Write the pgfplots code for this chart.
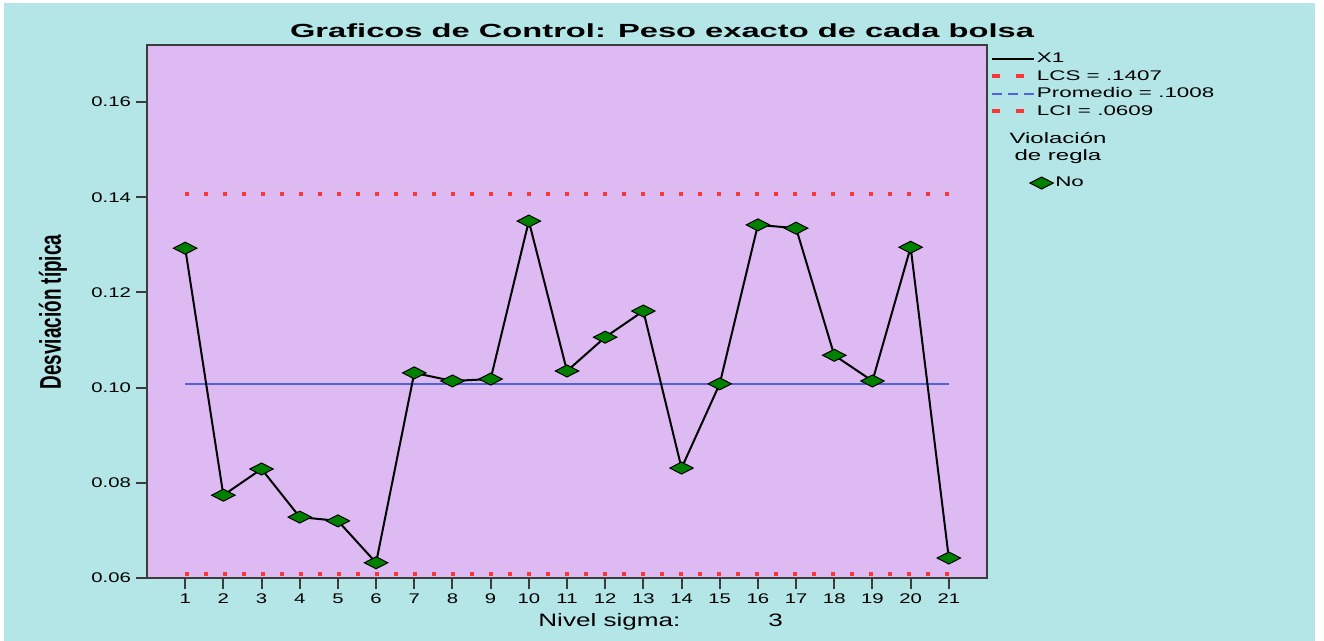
\documentclass[border=0pt]{standalone}
\usepackage{pgfplots}
\pgfplotsset{compat=1.18}
\usepackage{pgfplotstable}
\usepackage{fontspec}
\setmainfont[FakeStretch=1.45]{Liberation Sans}
\newfontfamily\titlefont[FakeStretch=1.72]{Liberation Sans}
\newfontfamily\legfont[FakeStretch=1.6]{Liberation Sans}
\newfontfamily\ylabfont[FakeStretch=0.63]{Liberation Sans}
\definecolor{bgcyan}{RGB}{180,230,231}
\definecolor{plotbg}{RGB}{222,186,242}
\definecolor{lred}{RGB}{250,55,55}
\definecolor{lblue}{RGB}{80,100,215}
\definecolor{dgreen}{RGB}{0,128,0}
\definecolor{axgray}{RGB}{60,60,60}

\pgfplotstableread{
x y
1 0.1293
2 0.0774
3 0.0829
4 0.0728
5 0.0720
6 0.0632
7 0.1031
8 0.1014
9 0.1018
10 0.1350
11 0.1035
12 0.1106
13 0.1161
14 0.0831
15 0.1008
16 0.1342
17 0.1335
18 0.1068
19 0.1014
20 0.1295
21 0.0642
}\datatable

\begin{document}
\begin{tikzpicture}[x=1pt,y=1pt]
\fill[white] (0,0) rectangle (662,320.5);
\fill[bgcyan] (2,0) rectangle (657.5,319);
\begin{axis}[
  at={(73.5pt,31.5pt)}, anchor=south west,
  width=420pt, height=266.5pt, scale only axis,
  axis background/.style={fill=plotbg},
  xmin=0, xmax=22, ymin=0.06, ymax=0.172,
  xtick={1,...,21},
  ytick={0.06,0.08,0.10,0.12,0.14,0.16},
  yticklabel style={xshift=1pt, /pgf/number format/fixed, /pgf/number format/fixed zerofill, /pgf/number format/precision=2},
  /pgf/number format/assume math mode=true,
  tick pos=left, tick align=outside,
  major tick length=5.5pt,
  every tick/.style={axgray, line width=1pt},
  axis line style={axgray, line width=1.1pt},
  ticklabel style={font=\fontsize{7}{8}\selectfont},
  xticklabel style={yshift=1pt},
  legend image code/.code={\draw[#1] (0pt,0pt) -- (21pt,0pt);},
  legend cell align=left,
  legend style={at={(1.003,0.99)}, anchor=north west, draw=none, fill=none,
    font=\legfont\fontsize{7}{8}\selectfont, inner sep=0pt, row sep=0.75pt,
    nodes={inner sep=0.5pt, text height=5.5pt, text depth=1.5pt}},
]
\addplot[lred, line width=2pt, dash pattern=on 2pt off 7.5pt, forget plot] coordinates {(1,0.1407) (21,0.1407)};
\addplot[lblue, line width=0.8pt, forget plot] coordinates {(1,0.1008) (21,0.1008)};
\addplot[lred, line width=2pt, dash pattern=on 2pt off 7.5pt, forget plot] coordinates {(1,0.0609) (21,0.0609)};
\addplot[black, line width=1pt, mark=diamond*, mark size=3pt,
  mark options={xscale=2.6, fill=dgreen, draw=black, line width=0.5pt, solid}, forget plot] table[x=x,y=y] {\datatable};
\addlegendimage{black, line width=0.8pt}
\addlegendentry{X1}
\addlegendimage{lred, line width=2pt, dash pattern=on 4pt off 8pt}
\addlegendentry{LCS = .1407}
\addlegendimage{lblue, line width=0.8pt, dash pattern=on 5pt off 3pt}
\addlegendentry{Promedio = .1008}
\addlegendimage{lred, line width=2pt, dash pattern=on 4pt off 8pt}
\addlegendentry{LCI = .0609}
\end{axis}
\begin{axis}[
  at={(73.5pt,31.5pt)}, anchor=south west,
  width=420pt, height=266.5pt, scale only axis, hide axis,
  xmin=0, xmax=1, ymin=0, ymax=1,
  legend image code/.code={\draw[#1] plot coordinates {(0pt,0pt)};},
  legend style={at={(1.0506,0.741)}, anchor=west, draw=none, fill=none,
    font=\legfont\fontsize{7}{8}\selectfont, inner sep=0pt,
    nodes={inner sep=1pt}},
]
\addlegendimage{only marks, mark=diamond*, mark size=3pt,
  mark options={xscale=2.6, fill=dgreen, draw=black, line width=0.5pt, solid}}
\addlegendentry{No}
\end{axis}
\node[font=\titlefont\bfseries\fontsize{9.5}{11}\selectfont] at (331,305) {Graficos de Control: Peso exacto de cada bolsa};
\node[rotate=90, font=\ylabfont\bfseries\fontsize{15}{16}\selectfont] at (26.5,164.5) {Desviación típica};
\node[anchor=base west, font=\fontsize{9}{10}\selectfont, inner sep=0pt] at (269,7) {Nivel sigma:};
\node[anchor=base west, font=\fontsize{9}{10}\selectfont, inner sep=0pt] at (384,7) {3};
\node[align=center, font=\legfont\fontsize{7.5}{8.5}\selectfont] at (529,246.5) {Violación\\de regla};
\end{tikzpicture}
\end{document}
